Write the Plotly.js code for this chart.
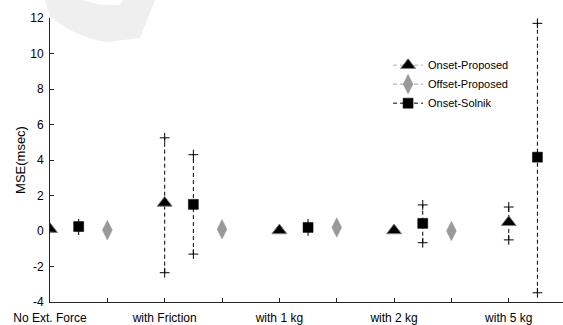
<!DOCTYPE html>
<html>
<head>
<meta charset="utf-8">
<script src="https://cdn.plot.ly/plotly-3.0.1.min.js"></script>
<style>html,body{margin:0;padding:0;background:#fff;}#chart{width:563px;height:325px;}</style>
</head>
<body>
<div id="chart"></div>
<script>
// ---- data ----
const categories = ['No Ext. Force', 'with Friction', 'with 1 kg', 'with 2 kg', 'with 5 kg'];
const categoryPos = [1, 2, 3, 4, 5];

const onsetProposed   = [0.10, 1.58, 0.03, 0.03, 0.49];
const onsetProposedLo = [null, -2.35, null, null, -0.50];
const onsetProposedHi = [null, 5.25, null, null, 1.35];

const offsetProposed  = [0.05, 0.10, 0.20, 0.00, null];

const onsetSolnik     = [0.25, 1.50, 0.20, 0.43, 4.16];
const onsetSolnikLo   = [0.05, -1.30, 0.00, -0.66, -3.48];
const onsetSolnikHi   = [0.40, 4.30, 0.40, 1.47, 11.70];

const yTickVals = [-4, -2, 0, 2, 4, 6, 8, 10, 12];
const yTickText = ['-4', '-2', '0', '2', '4', '6', '8', '10', '12'];

// ---- layout helpers ----
const OFF_ONSET_PROP = 0.0, OFF_SOLNIK = 0.25, OFF_OFFSET_PROP = 0.5;
const xOf = off => categoryPos.map(p => p + off);

const xTickVals = [], xTickText = [];
categoryPos.forEach((p, i) => {
  xTickVals.push(p); xTickText.push(categories[i]);
  if (i < categoryPos.length - 1) { xTickVals.push(p + 0.5); xTickText.push(''); }
});

function errTraces(xs, lo, hi) {
  const lx = [], ly = [], mx = [], my = [];
  xs.forEach((x, i) => {
    if (lo[i] == null || hi[i] == null) return;
    lx.push(x, x, null); ly.push(lo[i], hi[i], null);
    mx.push(x, x); my.push(lo[i], hi[i]);
  });
  return [
    {x: lx, y: ly, mode: 'lines', type: 'scatter', showlegend: false, hoverinfo: 'skip',
     line: {color: '#000', width: 1, dash: '4px,3px'}},
    {x: mx, y: my, mode: 'markers', type: 'scatter', showlegend: false, hoverinfo: 'skip',
     marker: {symbol: 'cross-thin-open', size: 7, color: '#000', line: {color: '#000', width: 1}}}
  ];
}

const xOP = xOf(OFF_ONSET_PROP), xSO = xOf(OFF_SOLNIK), xFP = xOf(OFF_OFFSET_PROP);

const mkTri = {symbol: 'triangle-up', size: 13, color: '#000', line: {color: '#808080', width: 1}};
const mkDia = {symbol: 'diamond-tall', size: 14, color: '#999999', line: {color: '#999999', width: 0.5}};
const mkSq  = {symbol: 'square', size: 10, color: '#000', line: {color: '#000', width: 0.5}};

const traces = [
  ...errTraces(xOP, onsetProposedLo, onsetProposedHi),
  ...errTraces(xSO, onsetSolnikLo, onsetSolnikHi),
  {x: xOP, y: onsetProposed, mode: 'markers', type: 'scatter', showlegend: false, marker: mkTri},
  {x: xFP, y: offsetProposed, mode: 'markers', type: 'scatter', showlegend: false, marker: mkDia},
  {x: xSO, y: onsetSolnik, mode: 'markers', type: 'scatter', showlegend: false, marker: mkSq},
  // legend entries
  {x: [null], y: [null], mode: 'lines+markers', type: 'scatter', name: 'Onset-Proposed',
   marker: mkTri, line: {color: '#b4b4b4', width: 1, dash: '4px,3px'}},
  {x: [null], y: [null], mode: 'lines+markers', type: 'scatter', name: 'Offset-Proposed',
   marker: mkDia, line: {color: '#a0a0a0', width: 1, dash: '4px,3px'}},
  {x: [null], y: [null], mode: 'lines+markers', type: 'scatter', name: 'Onset-Solnik',
   marker: mkSq, line: {color: '#000', width: 1, dash: '4px,3px'}}
];

const font = {family: 'Liberation Sans, Arial, sans-serif', size: 12, color: '#262626'};

const layout = {
  width: 563, height: 325,
  margin: {l: 50, r: 0, t: 18, b: 23},
  paper_bgcolor: '#fff', plot_bgcolor: '#fff',
  font: font,
  hovermode: false,
  showlegend: true,
  legend: {x: 0.659, y: 0.885, xanchor: 'left', yanchor: 'top', bgcolor: 'rgba(0,0,0,0)',
           font: {family: font.family, size: 11, color: '#000'}},
  xaxis: {
    range: [1, 5.473], showgrid: false, zeroline: false,
    showline: true, linecolor: '#262626', linewidth: 1,
    ticks: 'inside', ticklen: 4, tickcolor: '#262626', tickwidth: 1,
    tickmode: 'array', tickvals: xTickVals, ticktext: xTickText,
    ticklabelstandoff: 5,
    tickfont: {family: font.family, size: 12, color: '#000'}
  },
  yaxis: {
    range: [-4, 12], showgrid: false, zeroline: false,
    showline: true, linecolor: '#262626', linewidth: 1,
    ticks: 'inside', ticklen: 4, tickcolor: '#262626', tickwidth: 1,
    tickmode: 'array', tickvals: yTickVals, ticktext: yTickText,
    ticklabelstandoff: 3,
    tickfont: {family: font.family, size: 12, color: '#000'},
    title: {text: 'MSE(msec)', font: {family: font.family, size: 13, color: '#000'}, standoff: 1}
  },
  shapes: [{
    type: 'path', xref: 'paper', yref: 'paper', layer: 'below',
    path: 'M -0.01 1.0634 L 0.0 1.007 Q 0.05 0.93 0.111 0.9155 L 0.1754 0.9296 L 0.2047 1.0634 L 0.1423 1.0634 L 0.1365 1.0458 Q 0.10 1.04 0.0643 1.0634 Z',
    fillcolor: '#efefef', line: {width: 0}
  }]
};

Plotly.newPlot('chart', traces, layout, {displayModeBar: false, staticPlot: true});
</script>
</body>
</html>
